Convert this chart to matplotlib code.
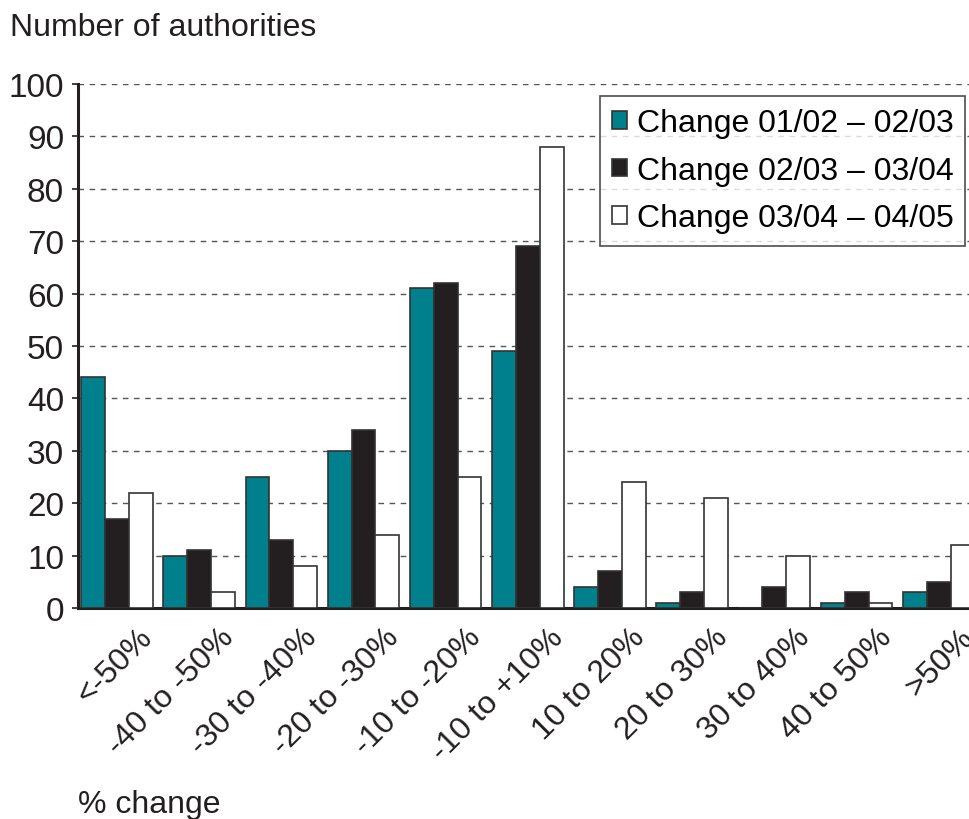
import matplotlib.pyplot as plt
import matplotlib.transforms as mtransforms
import numpy as np

categories = ['<-50%', '-40 to -50%', '-30 to -40%', '-20 to -30%', '-10 to -20%',
              '-10 to +10%', '10 to 20%', '20 to 30%', '30 to 40%', '40 to 50%', '>50%']
change_0102_0203 = [44, 10, 25, 30, 61, 49, 4, 1, 0, 1, 3]
change_0203_0304 = [17, 11, 13, 34, 62, 69, 7, 3, 4, 3, 5]
change_0304_0405 = [22, 3, 8, 14, 25, 88, 24, 21, 10, 1, 12]
series_labels = ['Change 01/02 \u2013 02/03', 'Change 02/03 \u2013 03/04', 'Change 03/04 \u2013 04/05']

plt.rcParams['font.family'] = ['Liberation Sans', 'DejaVu Sans']
fontsize = 23

fig = plt.figure(figsize=(9.7, 8.2), dpi=100)
# axes placed in pixel terms: left 78, right 970, bottom y=609, top y=85
ax = fig.add_axes([78 / 970, 1 - 609 / 820, (970 - 78) / 970, (609 - 85) / 820])

x = np.arange(len(categories))
width = 0.29
colors = ['#00808c', '#231f20', 'white']
for k, (vals, col) in enumerate(zip([change_0102_0203, change_0203_0304, change_0304_0405], colors)):
    ax.bar(x + (k - 1) * width, vals, width=width, color=col, edgecolor='#333333',
           linewidth=1.2, label=series_labels[k], zorder=3)

ax.set_xlim(-0.474, 10.38)
ax.set_ylim(0, 100)
ax.set_yticks(range(0, 101, 10))
ax.tick_params(axis='y', labelsize=fontsize + 1, length=4, width=1.2, color='#231f20',
               labelcolor='#231f20', pad=6)
ax.grid(axis='y', linestyle=(0, (4, 4)), color='#555555', linewidth=1.0, zorder=0)

ax.set_xticks(x)
ax.set_xticklabels(categories, rotation=45, ha='right', rotation_mode='anchor',
                   fontsize=fontsize, color='#231f20')
ax.tick_params(axis='x', length=0, pad=10)
shift = mtransforms.ScaledTranslation(20 / 100, 0, fig.dpi_scale_trans)
for lbl in ax.get_xticklabels():
    lbl.set_transform(lbl.get_transform() + shift)

for side in ['top', 'right']:
    ax.spines[side].set_visible(False)
for side in ['left', 'bottom']:
    ax.spines[side].set_linewidth(2.2)
    ax.spines[side].set_color('#231f20')

fig.text(10 / 970, 1 - 28 / 820, 'Number of authorities', fontsize=fontsize,
         va='center', ha='left', color='#231f20')
fig.text(78 / 970, 1 - 805 / 820, '% change', fontsize=fontsize,
         va='center', ha='left', color='#231f20')

leg = ax.legend(loc='upper right', bbox_to_anchor=(0.9985, 0.983), fontsize=fontsize,
                frameon=True, fancybox=False, edgecolor='#231f20', handlelength=0.48,
                handleheight=0.48, handletextpad=0.3, borderpad=0.38, labelspacing=0.55,
                borderaxespad=0.1)
leg.get_frame().set_linewidth(1.2)
leg.set_zorder(5)

fig.savefig('out.png', dpi=100)
